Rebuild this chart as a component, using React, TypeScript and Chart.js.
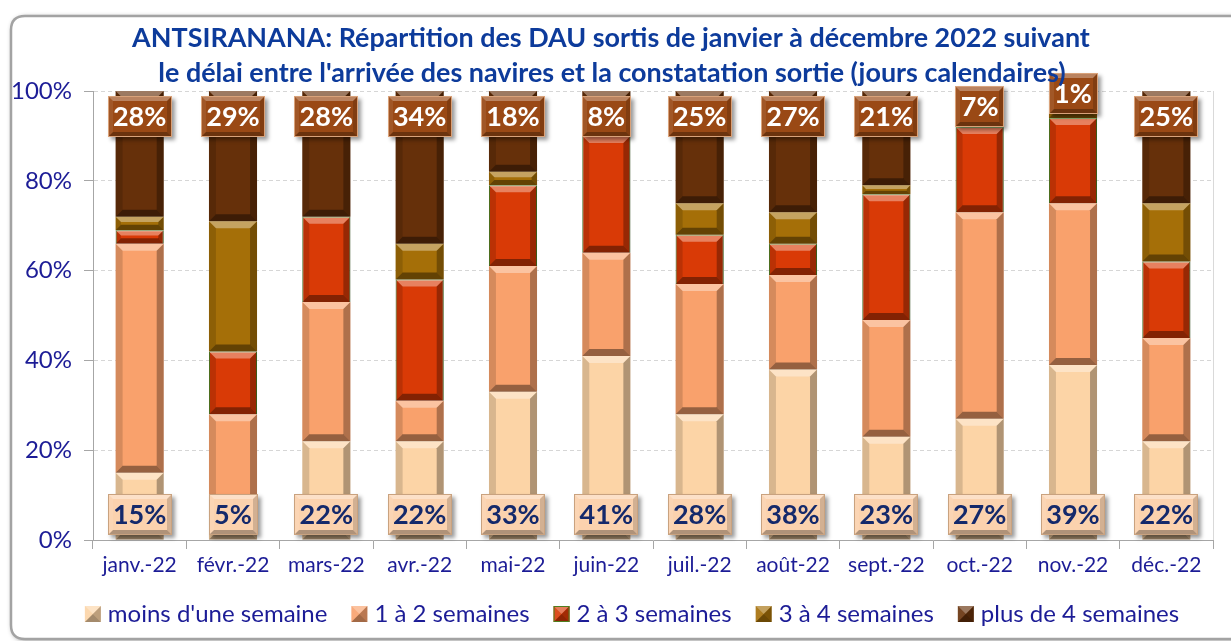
import React, { useEffect, useRef } from "react";
import { Chart, registerables } from "chart.js";

Chart.register(...registerables);

// ---------- data ----------
const months = ["janv.-22", "févr.-22", "mars-22", "avr.-22", "mai-22", "juin-22", "juil.-22", "août-22", "sept.-22", "oct.-22", "nov.-22", "déc.-22"];
const seriesNames = ["moins d'une semaine", "1 à 2 semaines", "2 à 3 semaines", "3 à 4 semaines", "plus de 4 semaines"];
const moinsUneSemaine = [15, 5, 22, 22, 33, 41, 28, 38, 23, 27, 39, 22];
const unADeuxSemaines = [51, 23, 31, 9, 28, 23, 29, 21, 26, 46, 36, 23];
const deuxATroisSemaines = [3, 14, 19, 27, 18, 26, 11, 7, 28, 19, 19, 17];
const troisAQuatreSemaines = [3, 29, 0, 8, 3, 2, 7, 7, 2, 1, 5, 13];
const plusDeQuatreSemaines = [28, 29, 28, 34, 18, 8, 25, 27, 21, 7, 1, 25];
const yTickValues = [0, 20, 40, 60, 80, 100];
const titleLines = [
  "ANTSIRANANA: Répartition des DAU sortis de janvier à décembre 2022 suivant",
  "le délai entre l'arrivée des navires et la constatation sortie (jours calendaires)",
];

// ---------- style ----------
const W = 1231;
const H = 641;
const FONT = "Lato, 'Open Sans', sans-serif";
const seriesColors = ["#FCD4A6", "#F9A16C", "#D93A06", "#A56F08", "#66300A"];
const axisTextColor = "#1C1C96";
const titleColor = "#0D3B9B";

function bevel(ctx: CanvasRenderingContext2D, l: number, t: number, w: number, h: number, b: number, a: { top: string; bottom: string; left: string; right: string }) {
  const r = l + w;
  const bt = t + h;
  const poly = (pts: number[][], c: string) => {
    ctx.beginPath();
    ctx.moveTo(pts[0][0], pts[0][1]);
    for (let i = 1; i < pts.length; i++) ctx.lineTo(pts[i][0], pts[i][1]);
    ctx.closePath();
    ctx.fillStyle = c;
    ctx.fill();
  };
  poly([[l, t], [r, t], [r - b, t + b], [l + b, t + b]], a.top);
  poly([[l, bt], [r, bt], [r - b, bt - b], [l + b, bt - b]], a.bottom);
  poly([[l, t], [l + b, t + b], [l + b, bt - b], [l, bt]], a.left);
  poly([[r, t], [r - b, t + b], [r - b, bt - b], [r, bt]], a.right);
}

const barBevel = { top: "rgba(255,255,255,0.36)", bottom: "rgba(0,0,0,0.40)", left: "rgba(0,0,0,0.14)", right: "rgba(0,0,0,0.30)" };

const framePlugin = {
  id: "frame",
  beforeDraw(chart: any) {
    const ctx = chart.ctx as CanvasRenderingContext2D;
    ctx.save();
    ctx.fillStyle = "#ffffff";
    ctx.fillRect(0, 0, W, H);
    const x = 11, y = 16, w = 1250, h = 623, rad = 14;
    ctx.beginPath();
    ctx.moveTo(x + rad, y);
    ctx.lineTo(x + w, y);
    ctx.lineTo(x + w, y + h);
    ctx.lineTo(x + rad, y + h);
    ctx.quadraticCurveTo(x, y + h, x, y + h - rad);
    ctx.lineTo(x, y + rad);
    ctx.quadraticCurveTo(x, y, x + rad, y);
    ctx.closePath();
    ctx.shadowColor = "rgba(0,0,0,0.45)";
    ctx.shadowBlur = 5;
    ctx.shadowOffsetX = 1;
    ctx.shadowOffsetY = 1;
    ctx.fillStyle = "#ffffff";
    ctx.fill();
    ctx.shadowColor = "transparent";
    ctx.lineWidth = 2.5;
    ctx.strokeStyle = "#a3a3a3";
    ctx.stroke();
    ctx.restore();
  },
  afterDraw(chart: any) {
    const ctx = chart.ctx as CanvasRenderingContext2D;
    const ca = chart.chartArea;
    ctx.save();
    // right border of plot
    ctx.strokeStyle = "#d9d9d9";
    ctx.lineWidth = 1;
    ctx.beginPath();
    ctx.moveTo(Math.round(ca.right) + 0.5, ca.top);
    ctx.lineTo(Math.round(ca.right) + 0.5, ca.bottom);
    ctx.stroke();

    // title
    ctx.font = `bold 26px ${FONT}`;
    const w1 = ctx.measureText(titleLines[0]).width;
    const ts = (26 * 958) / w1;
    ctx.font = `bold ${ts}px ${FONT}`;
    ctx.fillStyle = titleColor;
    ctx.textAlign = "center";
    ctx.textBaseline = "alphabetic";
    ctx.fillText(titleLines[0], 611, 47);
    ctx.fillText(titleLines[1], 612, 82);

    // legend
    const fs = 24;
    ctx.font = `${fs}px ${FONT}`;
    const marker = 16, mgap = 7, igap = 24;
    const widths = seriesNames.map((n) => ctx.measureText(n).width);
    const total = widths.reduce((s, v) => s + v + marker + mgap, 0) + igap * (seriesNames.length - 1);
    let lx = 632 - total / 2;
    const cy = 614;
    chart.data.datasets.forEach((ds: any, i: number) => {
      ctx.fillStyle = ds.backgroundColor;
      ctx.fillRect(lx, cy - marker / 2, marker, marker);
      bevel(ctx, lx, cy - marker / 2, marker, marker, marker / 2, { top: "rgba(255,255,255,0.35)", bottom: "rgba(0,0,0,0.35)", left: "rgba(255,255,255,0.1)", right: "rgba(0,0,0,0.25)" });
      if (i === 2) {
        ctx.strokeStyle = "#4E7F1F";
        ctx.lineWidth = 1;
        ctx.strokeRect(lx + 0.5, cy - marker / 2 + 0.5, marker - 1, marker - 1);
      }
      ctx.fillStyle = axisTextColor;
      ctx.textAlign = "left";
      ctx.textBaseline = "middle";
      ctx.fillText(ds.label, lx + marker + mgap, cy);
      lx += marker + mgap + widths[i] + igap;
    });
    ctx.restore();
  },
};

function labelBox(ctx: CanvasRenderingContext2D, cx: number, cy: number, text: string, fill: string, edge: string, textColor: string) {
  ctx.font = `bold 27px ${FONT}`;
  const tw = ctx.measureText(text).width;
  const bw = Math.round(tw + 11);
  const bh = 41;
  const l = Math.round(cx - bw / 2);
  const t = Math.round(cy - bh / 2);
  ctx.save();
  ctx.shadowColor = "rgba(0,0,0,0.4)";
  ctx.shadowBlur = 4;
  ctx.shadowOffsetX = 3;
  ctx.shadowOffsetY = 3;
  ctx.fillStyle = fill;
  ctx.fillRect(l, t, bw, bh);
  ctx.restore();
  bevel(ctx, l, t, bw, bh, 5, { top: "rgba(255,255,255,0.32)", bottom: "rgba(0,0,0,0.3)", left: "rgba(255,255,255,0.08)", right: "rgba(0,0,0,0.16)" });
  ctx.strokeStyle = edge;
  ctx.lineWidth = 1;
  ctx.strokeRect(l + 0.5, t + 0.5, bw - 1, bh - 1);
  ctx.fillStyle = textColor;
  ctx.textAlign = "center";
  ctx.textBaseline = "middle";
  ctx.fillText(text, cx, cy + 1);
}

const barDecorPlugin = {
  id: "barDecor",
  afterDatasetsDraw(chart: any) {
    const ctx = chart.ctx as CanvasRenderingContext2D;
    ctx.save();
    chart.data.datasets.forEach((_ds: any, di: number) => {
      const meta = chart.getDatasetMeta(di);
      meta.data.forEach((el: any) => {
        const p = el.getProps(["x", "y", "base", "width"], true);
        const top = Math.min(p.y, p.base);
        const bot = Math.max(p.y, p.base);
        const h = bot - top;
        if (h < 0.5) return;
        const b = Math.min(7, h / 2.5);
        bevel(ctx, p.x - p.width / 2, top, p.width, h, b, barBevel);
      });
    });
    // bottom labels (first series)
    const m0 = chart.getDatasetMeta(0);
    m0.data.forEach((el: any, i: number) => {
      const p = el.getProps(["x", "y", "base"], true);
      labelBox(ctx, p.x, p.base - 25, chart.data.datasets[0].data[i] + "%", "#FBD2AE", "#C9A27F", "#14296B");
    });
    // top labels (last series)
    const last = chart.data.datasets.length - 1;
    const mL = chart.getDatasetMeta(last);
    mL.data.forEach((el: any, i: number) => {
      const p = el.getProps(["x", "y", "base"], true);
      const top = Math.min(p.y, p.base);
      const h = Math.abs(p.base - p.y);
      const cy = h >= 34 ? top + 25.5 : top + h / 2;
      labelBox(ctx, p.x, cy, chart.data.datasets[last].data[i] + "%", "#9A4915", "#D9A27A", "#FFFFFF");
    });
    ctx.restore();
  },
};

export default function App() {
  const ref = useRef<HTMLCanvasElement | null>(null);
  useEffect(() => {
    if (!ref.current) return;
    const series = [moinsUneSemaine, unADeuxSemaines, deuxATroisSemaines, troisAQuatreSemaines, plusDeQuatreSemaines];
    const chart = new Chart(ref.current, {
      type: "bar",
      data: {
        labels: months,
        datasets: series.map((d, i) => ({
          label: seriesNames[i],
          data: d,
          backgroundColor: seriesColors[i],
          borderColor: i === 2 ? "#4E7F1F" : seriesColors[i],
          borderWidth: i === 2 ? 1 : 0,
          barPercentage: 0.515,
          categoryPercentage: 1,
          stack: "s",
        })),
      },
      options: {
        animation: false,
        responsive: false,
        layout: { padding: { top: 91, left: 0, right: 18, bottom: 51 } },
        plugins: { legend: { display: false }, title: { display: false }, tooltip: { enabled: false } },
        scales: {
          x: {
            stacked: true,
            grid: { offset: true, drawOnChartArea: false, drawTicks: true, tickLength: 9, color: "#a6a6a6", tickColor: "#a6a6a6" },
            border: { color: "#a6a6a6", width: 1 },
            ticks: { color: axisTextColor, font: { family: FONT, size: 21 }, padding: 4, maxRotation: 0, autoSkip: false },
            afterFit: (s: any) => {
              s.height = 50;
            },
          },
          y: {
            stacked: true,
            min: 0,
            max: 100,
            afterBuildTicks: (s: any) => {
              s.ticks = yTickValues.map((v) => ({ value: v }));
            },
            ticks: { color: axisTextColor, font: { family: FONT, size: 24 }, padding: 12, callback: (v: any) => v + "%" },
            grid: {
              color: (c: any) => (c.tick && c.tick.value === 0 ? "rgba(0,0,0,0)" : "#d6d6d6"),
              tickColor: "#a6a6a6",
              tickLength: 9,
              tickBorderDash: [],
              lineWidth: 1,
            },
            border: { color: "#a6a6a6", width: 1, dash: [4, 3] },
            afterFit: (s: any) => {
              s.width = 93;
            },
          },
        },
      },
      plugins: [framePlugin, barDecorPlugin],
    } as any);
    if ((document as any).fonts && (document as any).fonts.load) {
      Promise.all([
        (document as any).fonts.load(`bold 27px Lato`),
        (document as any).fonts.load(`24px Lato`),
      ]).then(() => {
        try {
          chart.update();
        } catch (e) {}
      });
    }
    return () => chart.destroy();
  }, []);
  return (
    <div style={{ position: "fixed", left: 0, top: 0, width: W, height: H, background: "#fff" }}>
      <canvas ref={ref} width={W} height={H} style={{ display: "block", width: W, height: H }} />
    </div>
  );
}
